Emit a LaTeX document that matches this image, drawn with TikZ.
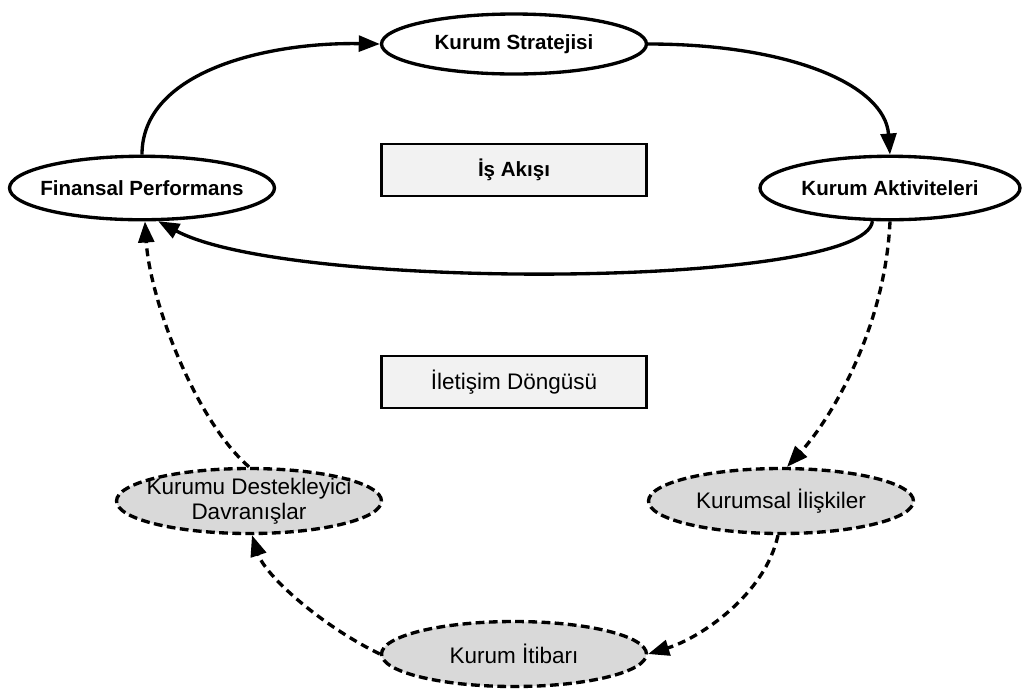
\documentclass[tikz,border=0pt]{standalone}
\usepackage{fontspec}
\setmainfont{Liberation Sans}
\usetikzlibrary{shapes.geometric,arrows.meta,backgrounds}
\definecolor{ellgray}{RGB}{217,217,217}
\definecolor{boxgray}{RGB}{242,242,242}
\definecolor{inkblack}{RGB}{0,0,0}

\begin{document}
\begin{tikzpicture}[x=0.02cm, y=-0.02cm,
    background rectangle/.style={fill=white}, show background rectangle,
    solidell/.style={ellipse, draw=inkblack, fill=white, line width=1.9pt, minimum width=5.3cm, minimum height=1.27cm, inner sep=0pt},
    dashell/.style={ellipse, draw=inkblack, fill=ellgray, line width=1.9pt, dash pattern=on 5pt off 2.5pt, minimum width=5.3cm, minimum height=1.3cm, inner sep=0pt},
    labelbox/.style={rectangle, draw=inkblack, fill=boxgray, line width=1.5pt, minimum width=5.3cm, minimum height=1.04cm, inner sep=0pt},
    boldtxt/.style={font=\fontsize{11.7}{14}\selectfont\bfseries, inner sep=0pt},
    plaintxt/.style={font=\fontsize{12.8}{14.5}\selectfont, align=center, inner sep=0pt},
    flow/.style={draw=inkblack, line width=1.9pt, -{Triangle[length=12pt,width=9pt]}},
    loopflow/.style={flow, dash pattern=on 4.5pt off 3pt}]

    \useasboundingbox (0,0) rectangle (1022,691);

    % 1. Business flow (solid ellipses)
    \node[solidell, minimum height=1.2cm] (str) at (514,44) {};
    \node[boldtxt] (strT) at (str) {Kurum Stratejisi};
    \node[solidell] (fin) at (142,188) {};
    \node[boldtxt] (finT) at (fin) {Finansal Performans};
    \node[solidell, minimum width=5.2cm] (akt) at (890,188) {};
    \node[boldtxt] (aktT) at (akt) {Kurum Aktiviteleri};

    % 2. Section captions
    \node[labelbox] (isbox) at (514,170) {};
    \node[boldtxt] (isT) at (isbox) {İş Akışı};
    \node[labelbox] (ilbox) at (514,382) {};
    \node[plaintxt] (ilT) at (ilbox) {İletişim Döngüsü};

    % 3. Communication loop (dashed ellipses)
    \node[dashell] (des) at (249,501) {};
    \node[plaintxt] (desT) at (des) {Kurumu Destekleyici\\Davranışlar};
    \node[dashell] (kur) at (781,501) {};
    \node[plaintxt] (kurT) at (kur) {Kurumsal İlişkiler};
    \node[dashell] (iti) at (514,654) {};
    \node[plaintxt] (itiT) at (iti) {Kurum İtibarı};

    % 4. Solid arrows
    \draw[flow] (fin.north) .. controls (142,70) and (270,42) .. (str.west);
    \draw[flow] (str.east) .. controls (790,44) and (885,85) .. (akt.north);
    \draw[flow] (akt.242) .. controls (866,288) and (290,292) .. (fin.296);

    % 5. Dashed arrows
    \draw[loopflow] (akt.south) .. controls (885,330) and (830,420) .. (kur.80);
    \draw[loopflow] (kur.265) .. controls (765,595) and (700,638) .. (iti.east);
    \draw[loopflow] (iti.west) .. controls (320,625) and (265,575) .. (des.275);
    \draw[loopflow] (des.north) .. controls (195,420) and (150,300) .. (fin.275);

\end{tikzpicture}
\end{document}
